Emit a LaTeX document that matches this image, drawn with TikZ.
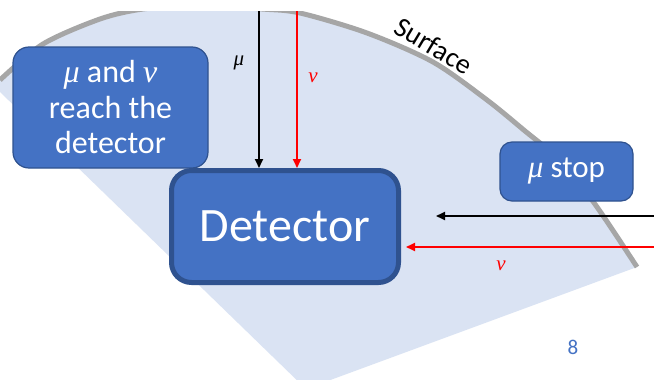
\documentclass[tikz,border=0pt]{standalone}
\usepackage{fontspec}
\setmainfont{Carlito}
\newfontfamily\grk{Liberation Serif}
\newcommand\gk[1]{{\grk\itshape #1}}
\usetikzlibrary{arrows.meta}
\definecolor{fillb}{HTML}{DAE3F3}
\definecolor{boxb}{HTML}{4472C4}
\definecolor{boxd}{HTML}{2F528F}
\definecolor{arcg}{HTML}{A6A6A6}
\begin{document}
\begin{tikzpicture}[x=1pt,y=-1pt,
  box/.style={draw=boxd, fill=boxb, text=white, rounded corners=16pt, line width=1.2pt, align=center, inner sep=0pt},
  ray/.style={line width=1.9pt, -{Triangle[width=8pt,length=9pt]}},
  lbl/.style={font=\fontsize{21}{23}\selectfont, inner sep=0pt}]
\useasboundingbox (0,0) rectangle (654,380);
\fill[white] (0,0) rectangle (654,380);
\begin{scope}
\clip (0,11) rectangle (654,380);
\fill[fillb] (0,92) -- (306,389) -- (637,267) -- plot[smooth] coordinates {(637,267) (597,207) (563,163) (525,131) (487,100) (433,62) (367,33) (300,13) (262,9) (200,5) (143,9) (100,19) (43,44) (0,80)} -- cycle;
\draw[arcg, line width=5pt] plot[smooth] coordinates {(637,267) (597,207) (563,163) (525,131) (487,100) (433,62) (367,33) (300,13) (262,9) (200,5) (143,9) (100,19) (43,44) (0,80)};
\end{scope}
\node[box, minimum width=195pt, minimum height=121pt, font=\fontsize{32}{35.5}\selectfont] (reach) at (110.5,107.5) {\gk{μ} and \gk{ν}\\reach the\\detector};
\node[box, line width=5pt, rounded corners=20pt, minimum width=227pt, minimum height=112pt, font=\fontsize{48}{52}\selectfont] (det) at (285,226.5) {Detector};
\node[box, rounded corners=12pt, minimum width=133pt, minimum height=59pt, font=\fontsize{31}{33}\selectfont] (stop) at (566.5,171.5) {\gk{μ} stop};
\node[rotate=-31, font=\fontsize{28}{30}\selectfont, inner sep=0pt] (surf) at (434,46) {Surface};
\node[lbl] (lm) at (239,63) {\gk{μ}};
\node[lbl, text=red] (ln1) at (313,78) {\gk{ν}};
\node[lbl, text=red] (ln2) at (501,266) {\gk{ν}};
\node[font=\fontsize{21}{24}\selectfont, text=boxb] (pg) at (573,347) {8};
\coordinate (mtop) at (259,11);
\coordinate (ntop) at (297,11);
\draw[ray] (mtop) -- (mtop |- det.north);
\draw[ray, red] (ntop) -- (ntop |- det.north);
\coordinate (mright) at (654,216);
\coordinate (mend) at (436,216);
\draw[ray] (mright) -- (mend);
\coordinate (nright) at (654,247);
\coordinate (nend) at (406,247);
\draw[ray, red] (nright) -- (nend);
\end{tikzpicture}
\end{document}
